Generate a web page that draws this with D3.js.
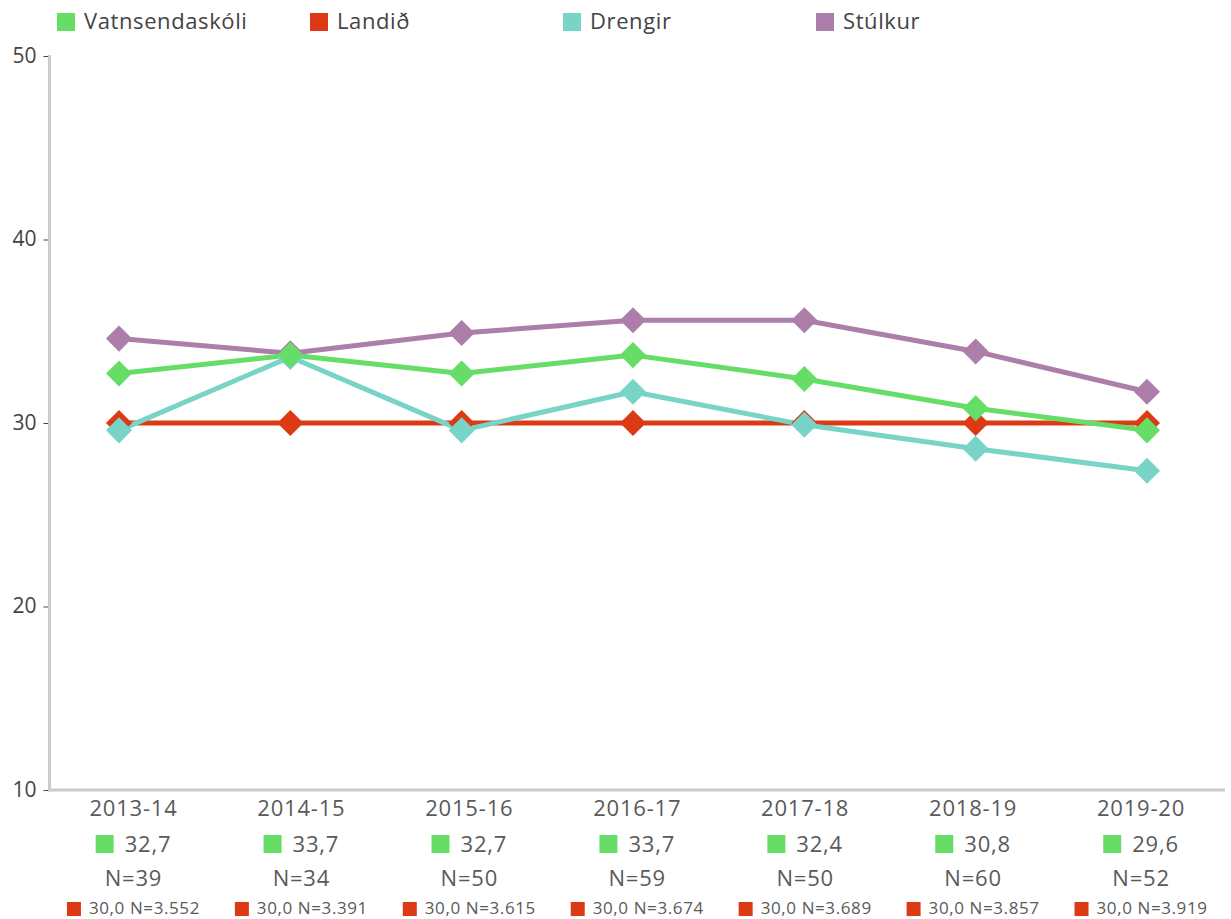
<!DOCTYPE html>
<html>
<head>
<meta charset="utf-8">
<script src="https://cdn.jsdelivr.net/npm/d3@7"></script>
<style>
  html, body { margin: 0; padding: 0; background: #fff; }
  svg { display: block; font-family: "Open Sans", "Noto Sans", sans-serif; }
</style>
</head>
<body>
<svg id="chart" width="1231" height="919"></svg>
<script>
// School years on the x axis
const categories = ["2013-14", "2014-15", "2015-16", "2016-17", "2017-18", "2018-19", "2019-20"];

// Series names and colours
const seriesNames = ["Vatnsendaskóli", "Landið", "Drengir", "Stúlkur"];
const seriesColors = ["#66dd66", "#dc3a14", "#77d4c6", "#ae7eaa"];

// Series values per school year
const schoolValues = [32.7, 33.7, 32.7, 33.7, 32.4, 30.8, 29.6];
const nationalValues = [30.0, 30.0, 30.0, 30.0, 30.0, 30.0, 30.0];
const boysValues = [29.6, 33.6, 29.6, 31.7, 29.9, 28.6, 27.4];
const girlsValues = [34.6, 33.8, 34.9, 35.6, 35.6, 33.9, 31.7];

// Respondent counts shown under the axis
const schoolN = ["39", "34", "50", "59", "50", "60", "52"];
const nationalN = ["3.552", "3.391", "3.615", "3.674", "3.689", "3.857", "3.919"];

// Y axis ticks
const yTicks = [10, 20, 30, 40, 50];

const fmt = v => v.toFixed(1).replace(".", ",");

const svg = d3.select("#chart");

const plotLeft = 49.5, plotRight = 1225, plotTop = 56, plotBottom = 790;

const y = d3.scaleLinear().domain([10, 50]).range([plotBottom, plotTop]);
const xPoint = d3.scalePoint().domain(categories).range([119, 1147]);
const xBand = d3.scaleBand().domain(categories).range([plotLeft, plotRight]);

// Y axis
const yAxis = svg.append("g").attr("transform", `translate(${plotLeft},0)`)
  .call(d3.axisLeft(y).tickValues(yTicks).tickSize(5).tickPadding(8).tickFormat(d3.format("d")));
yAxis.select(".domain").remove();
yAxis.selectAll(".tick line").attr("stroke", "#444").attr("x1", -6).attr("x2", -1);
yAxis.selectAll(".tick text").attr("fill", "#444").style("font-size", "21px")
  .style("font-family", "'Open Sans', sans-serif").attr("dy", "0.3em");

// Axis lines
svg.append("line").attr("x1", plotLeft).attr("x2", plotLeft)
  .attr("y1", plotTop - 1).attr("y2", plotBottom + 1.5)
  .attr("stroke", "#cccccc").attr("stroke-width", 3);
svg.append("line").attr("x1", plotLeft - 1.5).attr("x2", plotRight)
  .attr("y1", plotBottom).attr("y2", plotBottom)
  .attr("stroke", "#cccccc").attr("stroke-width", 3);

// Lines and markers
const allSeries = [
  { name: seriesNames[1], color: seriesColors[1], values: nationalValues },
  { name: seriesNames[2], color: seriesColors[2], values: boysValues },
  { name: seriesNames[3], color: seriesColors[3], values: girlsValues },
  { name: seriesNames[0], color: seriesColors[0], values: schoolValues }
];

const line = d3.line().x((d, i) => xPoint(categories[i])).y(d => y(d));

svg.append("g").selectAll("path").data(allSeries).join("path")
  .attr("d", s => line(s.values))
  .attr("fill", "none")
  .attr("stroke", s => s.color)
  .attr("stroke-width", 5)
  .attr("stroke-linejoin", "round");

const diamond = d3.symbol().type(d3.symbolSquare).size(340);
const markerGroups = svg.append("g").selectAll("g").data(allSeries).join("g");
markerGroups.selectAll("path")
  .data(s => s.values.map((v, i) => ({ v, i, color: s.color })))
  .join("path")
  .attr("d", diamond)
  .attr("transform", d => `translate(${xPoint(categories[d.i])},${y(d.v)}) rotate(45)`)
  .attr("fill", d => d.color);

// Legend
const legend = svg.append("g");
seriesNames.forEach((name, i) => {
  const lx = 57 + i * 253;
  legend.append("rect").attr("x", lx).attr("y", 13).attr("width", 18).attr("height", 18)
    .attr("fill", seriesColors[i]);
  legend.append("text").attr("x", lx + 27).attr("y", 29)
    .attr("fill", "#444").style("font-size", "22px").style("letter-spacing", "0.6px")
    .text(name);
});

// Category labels with values under the axis
const labels = svg.append("g");
const bigText = sel => sel.attr("fill", "#5a5a5a").style("font-size", "22px")
  .style("letter-spacing", "0.8px");

categories.forEach((c, i) => {
  const cx = xBand(c) + xBand.bandwidth() / 2;
  labels.append("text").attr("x", cx).attr("y", 816).attr("text-anchor", "middle")
    .call(bigText).text(c);

  const g1 = labels.append("g");
  g1.append("rect").attr("x", 0).attr("y", 835).attr("width", 18).attr("height", 18)
    .attr("fill", seriesColors[0]);
  const t1 = g1.append("text").attr("x", 29).attr("y", 852)
    .call(bigText).text(fmt(schoolValues[i]));
  const w1 = 29 + t1.node().getComputedTextLength();
  g1.attr("transform", `translate(${cx - w1 / 2},0)`);

  labels.append("text").attr("x", cx).attr("y", 886).attr("text-anchor", "middle")
    .call(bigText).text("N=" + schoolN[i]);

  const g2 = labels.append("g");
  g2.append("rect").attr("x", 0).attr("y", 902).attr("width", 14).attr("height", 14)
    .attr("fill", seriesColors[1]);
  const t2 = g2.append("text").attr("x", 22).attr("y", 914)
    .attr("fill", "#5a5a5a").style("font-size", "17px").style("letter-spacing", "0.6px")
    .text(fmt(nationalValues[i]) + " N=" + nationalN[i]);
  const w2 = 22 + t2.node().getComputedTextLength();
  g2.attr("transform", `translate(${cx - w2 / 2},0)`);
});
</script>
</body>
</html>
